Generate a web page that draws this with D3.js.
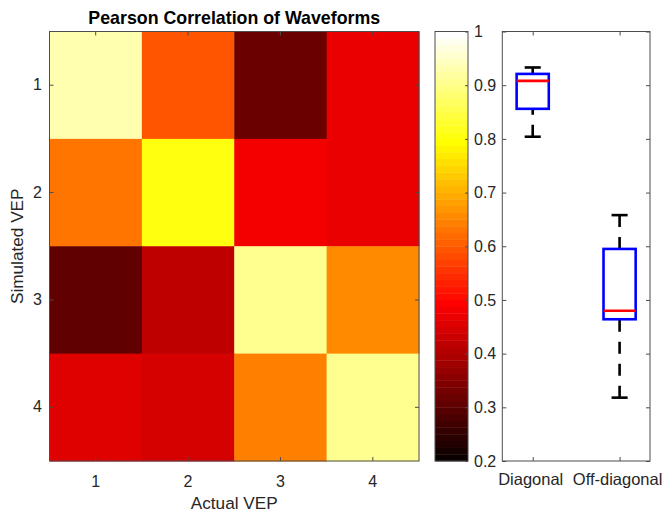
<!DOCTYPE html>
<html>
<head>
<meta charset="utf-8">
<script src="https://cdn.jsdelivr.net/npm/d3@7"></script>
<style>
  html, body { margin: 0; padding: 0; background: #fff; }
  svg { display: block; }
  text { font-family: "Liberation Sans", Arial, Helvetica, sans-serif; }
</style>
</head>
<body>
<svg id="chart" width="665" height="512"></svg>
<script>
// ---------------- data ----------------
const actualLabels = ["1", "2", "3", "4"];      // columns (Actual VEP)
const simulatedLabels = ["1", "2", "3", "4"];   // rows (Simulated VEP)
const corrRow1 = [0.931, 0.594, 0.320, 0.465];
const corrRow2 = [0.631, 0.806, 0.481, 0.474];
const corrRow3 = [0.308, 0.418, 0.907, 0.656];
const corrRow4 = [0.456, 0.444, 0.644, 0.909];
const corrMatrix = [corrRow1, corrRow2, corrRow3, corrRow4];

const colorbarTicks = [0.2, 0.3, 0.4, 0.5, 0.6, 0.7, 0.8, 0.9, 1];
const colorbarTickLabels = ["0.2", "0.3", "0.4", "0.5", "0.6", "0.7", "0.8", "0.9", "1"];
const colorLimits = [0.2, 1];

const boxGroups = ["Diagonal", "Off-diagonal"];
const boxWhiskerLow = [0.804, 0.318];
const boxQ1 = [0.856, 0.464];
const boxMedian = [0.908, 0.480];
const boxQ3 = [0.921, 0.595];
const boxWhiskerHigh = [0.933, 0.658];

// ---------------- colormap (MATLAB "hot", 64 levels) ----------------
const NLEV = 64;
function hotIndex(i) { // i in 1..64
  const n1 = 24, n2 = 48;
  const r = i <= n1 ? i / n1 : 1;
  const g = i <= n1 ? 0 : (i <= n2 ? (i - n1) / n1 : 1);
  const b = i <= n2 ? 0 : (i - n2) / (NLEV - n2);
  return d3.rgb(Math.round(r * 255), Math.round(g * 255), Math.round(b * 255)).formatHex();
}
const levelScale = d3.scaleQuantize().domain(colorLimits).range(d3.range(1, NLEV + 1));
const colorOf = v => hotIndex(levelScale(Math.max(colorLimits[0], Math.min(colorLimits[1], v))));

// ---------------- layout ----------------
const svg = d3.select("#chart");
const axisColor = "#4d4d4d";
const textColor = "#262626";
const tickFont = 16;
const labelFont = 17.2;

const hm = { x0: 49.5, x1: 419, y0: 31.5, y1: 461 };
const cb = { x0: 435, x1: 468, y0: 31.5, y1: 461 };
const bp = { x0: 502.3, x1: 650, y0: 31.5, y1: 461 };

function styleAxis(g, showText) {
  g.select(".domain").remove();
  g.selectAll(".tick line").attr("stroke", axisColor).attr("stroke-width", 1);
  g.selectAll(".tick text").attr("fill", textColor).style("font-size", tickFont + "px")
    .style("display", showText ? null : "none");
}

// ---------------- heatmap ----------------
const xH = d3.scaleBand().domain(actualLabels).range([hm.x0, hm.x1]);
const yH = d3.scaleBand().domain(simulatedLabels).range([hm.y0, hm.y1]);

const cells = [];
corrMatrix.forEach((row, ri) => row.forEach((v, ci) => cells.push({ r: simulatedLabels[ri], c: actualLabels[ci], v })));

svg.append("g").selectAll("rect").data(cells).join("rect")
  .attr("x", d => xH(d.c)).attr("y", d => yH(d.r))
  .attr("width", xH.bandwidth() + 0.5).attr("height", yH.bandwidth() + 0.5)
  .attr("fill", d => colorOf(d.v));

svg.append("g").attr("transform", `translate(0,${hm.y1})`)
  .call(d3.axisBottom(xH).tickSizeInner(-4).tickSizeOuter(0).tickPadding(14.4))
  .call(g => styleAxis(g, true));
svg.append("g").attr("transform", `translate(0,${hm.y0})`)
  .call(d3.axisTop(xH).tickSizeInner(-4).tickSizeOuter(0).tickFormat(""))
  .call(g => styleAxis(g, false));
svg.append("g").attr("transform", `translate(${hm.x0},0)`)
  .call(d3.axisLeft(yH).tickSizeInner(-4).tickSizeOuter(0).tickPadding(7.5))
  .call(g => styleAxis(g, true));
svg.append("g").attr("transform", `translate(${hm.x1},0)`)
  .call(d3.axisRight(yH).tickSizeInner(-4).tickSizeOuter(0).tickFormat(""))
  .call(g => styleAxis(g, false));

svg.append("rect").attr("x", hm.x0).attr("y", hm.y0)
  .attr("width", hm.x1 - hm.x0).attr("height", hm.y1 - hm.y0)
  .attr("fill", "none").attr("stroke", axisColor).attr("stroke-width", 1);

svg.append("text").attr("x", (hm.x0 + hm.x1) / 2).attr("y", 24)
  .attr("text-anchor", "middle").attr("font-weight", "bold")
  .style("font-size", "17.8px").attr("fill", "#000")
  .text("Pearson Correlation of Waveforms");

svg.append("text").attr("x", (hm.x0 + hm.x1) / 2).attr("y", 508.5)
  .attr("text-anchor", "middle").style("font-size", labelFont + "px").attr("fill", textColor)
  .text("Actual VEP");

svg.append("text")
  .attr("transform", `translate(23,${(hm.y0 + hm.y1) / 2}) rotate(-90)`)
  .attr("text-anchor", "middle").style("font-size", labelFont + "px").attr("fill", textColor)
  .text("Simulated VEP");

// ---------------- colorbar ----------------
const yC = d3.scaleLinear().domain(colorLimits).range([cb.y1, cb.y0]);
const levels = d3.range(NLEV).map(k => ({
  lo: colorLimits[0] + (colorLimits[1] - colorLimits[0]) * k / NLEV,
  hi: colorLimits[0] + (colorLimits[1] - colorLimits[0]) * (k + 1) / NLEV,
  idx: k + 1
}));
svg.append("g").selectAll("rect").data(levels).join("rect")
  .attr("x", cb.x0).attr("width", cb.x1 - cb.x0)
  .attr("y", d => yC(d.hi)).attr("height", d => yC(d.lo) - yC(d.hi) + 0.4)
  .attr("fill", d => hotIndex(d.idx));

svg.append("g").attr("transform", `translate(${cb.x1},0)`)
  .call(d3.axisRight(yC).tickValues(colorbarTicks)
    .tickFormat((d, i) => colorbarTickLabels[i])
    .tickSizeInner(-3).tickSizeOuter(0).tickPadding(6))
  .call(g => styleAxis(g, true));
svg.append("rect").attr("x", cb.x0).attr("y", cb.y0)
  .attr("width", cb.x1 - cb.x0).attr("height", cb.y1 - cb.y0)
  .attr("fill", "none").attr("stroke", axisColor).attr("stroke-width", 1);

// ---------------- boxplot ----------------
const xB = d3.scaleLinear().domain([0.65, 2.35]).range([bp.x0, bp.x1]);
const yB = d3.scaleLinear().domain(colorLimits).range([bp.y1, bp.y0]);
const boxPos = [1, 2];
const boxW = 0.37, capW = 0.185;

svg.append("g").attr("transform", `translate(${bp.x0},0)`)
  .call(d3.axisLeft(yB).tickValues(colorbarTicks).tickSizeInner(-4).tickSizeOuter(0).tickFormat(""))
  .call(g => styleAxis(g, false));
svg.append("g").attr("transform", `translate(${bp.x1},0)`)
  .call(d3.axisRight(yB).tickValues(colorbarTicks).tickSizeInner(-4).tickSizeOuter(0).tickFormat(""))
  .call(g => styleAxis(g, false));
svg.append("g").attr("transform", `translate(0,${bp.y1})`)
  .call(d3.axisBottom(xB).tickValues(boxPos).tickFormat((d, i) => boxGroups[i])
    .tickSizeInner(-4).tickSizeOuter(0).tickPadding(12))
  .call(g => styleAxis(g, true))
  .call(g => g.selectAll(".tick text").style("font-size", "16.5px").attr("dx", -2.5));
svg.append("g").attr("transform", `translate(0,${bp.y0})`)
  .call(d3.axisTop(xB).tickValues(boxPos).tickSizeInner(-4).tickSizeOuter(0).tickFormat(""))
  .call(g => styleAxis(g, false));
svg.append("rect").attr("x", bp.x0).attr("y", bp.y0)
  .attr("width", bp.x1 - bp.x0).attr("height", bp.y1 - bp.y0)
  .attr("fill", "none").attr("stroke", axisColor).attr("stroke-width", 1);

const boxes = boxGroups.map((g, i) => ({
  pos: boxPos[i], lo: boxWhiskerLow[i], q1: boxQ1[i], med: boxMedian[i], q3: boxQ3[i], hi: boxWhiskerHigh[i]
}));
const bg = svg.append("g").selectAll("g").data(boxes).join("g");
const lw = 2.6;
// whiskers (drawn from lower value upward, dashed)
bg.append("line").attr("x1", d => xB(d.pos)).attr("x2", d => xB(d.pos))
  .attr("y1", d => yB(d.q3)).attr("y2", d => yB(d.hi))
  .attr("stroke", "#000").attr("stroke-width", lw).attr("stroke-dasharray", "12,10");
bg.append("line").attr("x1", d => xB(d.pos)).attr("x2", d => xB(d.pos))
  .attr("y1", d => yB(d.lo)).attr("y2", d => yB(d.q1))
  .attr("stroke", "#000").attr("stroke-width", lw).attr("stroke-dasharray", "12,10");
// caps
bg.append("line").attr("x1", d => xB(d.pos - capW / 2)).attr("x2", d => xB(d.pos + capW / 2))
  .attr("y1", d => yB(d.hi)).attr("y2", d => yB(d.hi))
  .attr("stroke", "#000").attr("stroke-width", lw);
bg.append("line").attr("x1", d => xB(d.pos - capW / 2)).attr("x2", d => xB(d.pos + capW / 2))
  .attr("y1", d => yB(d.lo)).attr("y2", d => yB(d.lo))
  .attr("stroke", "#000").attr("stroke-width", lw);
// box
bg.append("rect").attr("x", d => xB(d.pos - boxW / 2)).attr("width", d => xB(d.pos + boxW / 2) - xB(d.pos - boxW / 2))
  .attr("y", d => yB(d.q3)).attr("height", d => yB(d.q1) - yB(d.q3))
  .attr("fill", "none").attr("stroke", "#0000ff").attr("stroke-width", lw);
// median
bg.append("line").attr("x1", d => xB(d.pos - boxW / 2)).attr("x2", d => xB(d.pos + boxW / 2))
  .attr("y1", d => yB(d.med)).attr("y2", d => yB(d.med))
  .attr("stroke", "#ff0000").attr("stroke-width", lw);
</script>
</body>
</html>
